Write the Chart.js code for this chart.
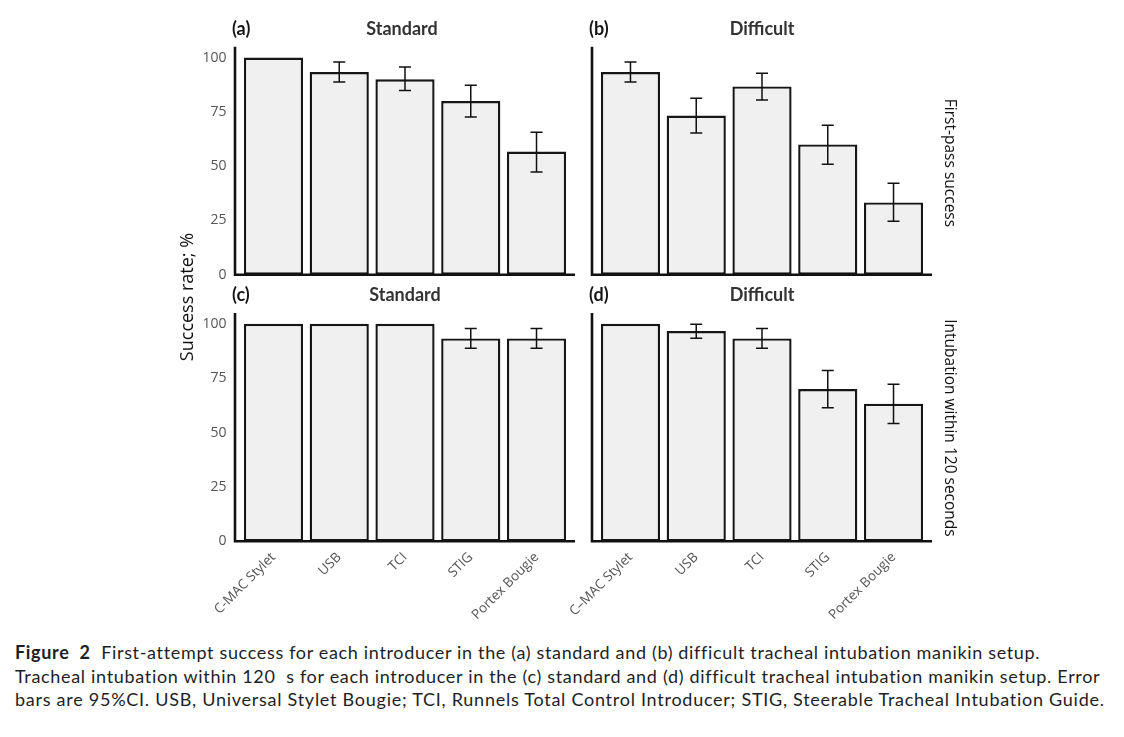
<!DOCTYPE html>
<html>
<head>
<meta charset="utf-8">
<script src="https://cdn.jsdelivr.net/npm/chart.js@4.4.1/dist/chart.umd.min.js"></script>
<style>
body { margin: 0; background: #fff; width: 1124px; height: 737px; position: relative; overflow: hidden; }
canvas { position: absolute; }
.side { position: absolute; font-family: 'Open Sans', sans-serif; color: #111; white-space: nowrap; transform-origin: center center; line-height: 20px; }
#caption { position: absolute; left: 15px; top: 641px; font-family: Lato, 'Noto Sans', sans-serif; font-size: 18px; line-height: 23.5px; color: #1e1e26; white-space: nowrap; }
#caption b { font-weight: 700; }
</style>
</head>
<body>
<canvas id="panel-a" width="400" height="275" style="left:180px;top:10px"></canvas>
<canvas id="panel-b" width="380" height="275" style="left:560px;top:10px"></canvas>
<canvas id="panel-c" width="400" height="345" style="left:180px;top:285px"></canvas>
<canvas id="panel-d" width="380" height="345" style="left:560px;top:285px"></canvas>

<div class="side" style="left:111px;top:287px;width:150px;text-align:center;font-size:18px;transform:rotate(-90deg)">Success rate; %</div>
<div class="side" style="left:871px;top:153px;width:160px;text-align:center;font-size:15.5px;transform:rotate(90deg)">First-pass success</div>
<div class="side" style="left:826px;top:418px;width:250px;text-align:center;font-size:15.5px;transform:rotate(90deg)">Intubation within 120 seconds</div>

<div id="caption">
<span class="ln" data-w="1024"><b>Figure&nbsp; 2</b>&nbsp; First-attempt success for each introducer in the (a) standard and (b) difficult tracheal intubation manikin setup.</span><br>
<span class="ln" data-w="1085">Tracheal intubation within 120&nbsp; s for each introducer in the (c) standard and (d) difficult tracheal intubation manikin setup. Error</span><br>
<span class="ln" data-w="1090">bars are 95%CI. USB, Universal Stylet Bougie; TCI, Runnels Total Control Introducer; STIG, Steerable Tracheal Intubation Guide.</span>
</div>

<script>
// Introducers and y ticks
var introducers = ['C-MAC Stylet', 'USB', 'TCI', 'STIG', 'Portex Bougie'];
var introducersD = ['C–MAC Stylet', 'USB', 'TCI', 'STIG', 'Portex Bougie'];
var yTicks = [0, 25, 50, 75, 100];

// (a) first-pass success, standard
var firstStd = [100, 93.3, 90, 80, 56.7];
var firstStdLo = [null, 88.8, 84.8, 72.6, 47.3];
var firstStdHi = [null, 97.9, 95.6, 87.2, 65.6];

// (b) first-pass success, difficult
var firstDif = [93.3, 73.3, 86.7, 60, 33.3];
var firstDifLo = [88.8, 65.2, 80.4, 50.9, 24.6];
var firstDifHi = [97.9, 81.3, 92.8, 68.8, 42.1];

// (c) intubation within 120 s, standard
var within120Std = [100, 100, 100, 93.3, 93.3];
var within120StdLo = [null, null, null, 88.8, 88.8];
var within120StdHi = [null, null, null, 97.9, 97.9];

// (d) intubation within 120 s, difficult
var within120Dif = [100, 96.7, 93.3, 70, 63.3];
var within120DifLo = [null, 93.4, 88.8, 61.4, 54.2];
var within120DifHi = [null, 99.8, 97.9, 78.5, 72.2];

var AXIS_EXT = 5.6;

// error bars, axis lines, panel letter and title
var panelDecor = {
	id: 'panelDecor',
	afterDatasetsDraw: function(chart) {
		var ctx = chart.ctx;
		var area = chart.chartArea;
		var yScale = chart.scales.y;
		var ds = chart.data.datasets[0];
		var meta = chart.getDatasetMeta(0);
		ctx.save();
		ctx.strokeStyle = '#111';
		ctx.lineWidth = 1.5;
		meta.data.forEach(function(bar, i) {
			if (ds.errLo[i] == null) return;
			var yLo = yScale.getPixelForValue(ds.errLo[i]);
			var yHi = yScale.getPixelForValue(ds.errHi[i]);
			ctx.beginPath();
			ctx.moveTo(bar.x, yLo); ctx.lineTo(bar.x, yHi);
			ctx.moveTo(bar.x - 6, yLo); ctx.lineTo(bar.x + 6, yLo);
			ctx.moveTo(bar.x - 6, yHi); ctx.lineTo(bar.x + 6, yHi);
			ctx.stroke();
		});
		// axes
		var x0 = area.left - AXIS_EXT, x1 = area.right + AXIS_EXT;
		ctx.lineWidth = 2.6;
		ctx.strokeStyle = '#111';
		ctx.beginPath();
		ctx.moveTo(x0, area.top);
		ctx.lineTo(x0, area.bottom);
		ctx.lineTo(x1, area.bottom);
		ctx.stroke();
		// panel letter + title
		var opts = chart.options.plugins.panelDecor;
		ctx.textBaseline = 'middle';
		ctx.font = 'bold 18px Lato, sans-serif';
		ctx.fillStyle = '#161616';
		ctx.textAlign = 'left';
		ctx.fillText(opts.letter, x0 - 3, area.top - 18);
		ctx.fillStyle = '#333';
		ctx.textAlign = 'center';
		ctx.fillText(opts.title, (x0 + x1) / 2 + opts.titleShift, area.top - 18);
		ctx.restore();
	}
};

function makePanel(id, labels, values, lo, hi, cfg) {
	var ctx = document.getElementById(id).getContext('2d');
	return new Chart(ctx, {
		type: 'bar',
		data: {
			labels: labels,
			datasets: [{
				data: values,
				errLo: lo,
				errHi: hi,
				backgroundColor: '#f0f0f0',
				borderColor: '#161616',
				borderWidth: 2.4,
				borderSkipped: false,
				barPercentage: 0.9,
				categoryPercentage: 1.0
			}]
		},
		options: {
			responsive: false,
			animation: false,
			layout: { padding: { top: cfg.padTop, right: cfg.padRight, left: 0, bottom: 0 } },
			plugins: {
				legend: { display: false },
				tooltip: { enabled: false },
				panelDecor: { letter: cfg.letter, title: cfg.title, titleShift: cfg.titleShift || 0 }
			},
			scales: {
				x: {
					type: 'category',
					grid: { display: false },
					border: { display: false },
					ticks: {
						display: cfg.showX,
						maxRotation: 45,
						minRotation: 45,
						padding: 0,
						color: '#555',
						font: { family: 'Open Sans', size: 13.5 }
					},
					afterFit: function(s) {
						s.height = cfg.xHeight;
						s.paddingLeft = 0; s.paddingRight = 0;
					}
				},
				y: {
					min: 0,
					max: 105,
					grid: { display: false },
					border: { display: false },
					afterBuildTicks: function(s) {
						s.ticks = yTicks.map(function(v) { return { value: v }; });
					},
					ticks: {
						display: cfg.showY,
						padding: 6,
						color: '#555',
						font: { family: 'Open Sans', size: 14 }
					},
					afterFit: function(s) {
						s.width = cfg.yWidth;
						s.paddingTop = 0; s.paddingBottom = 0;
					}
				}
			}
		},
		plugins: [panelDecor]
	});
}

window.addEventListener('load', function() {
	makePanel('panel-a', introducers, firstStd, firstStdLo, firstStdHi,
		{ letter: '(a)', title: 'Standard', titleShift: -3, padTop: 36.7, padRight: 10.6, yWidth: 60.6, xHeight: 10.3, showX: false, showY: true });
	makePanel('panel-b', introducers, firstDif, firstDifLo, firstDifHi,
		{ letter: '(b)', title: 'Difficult', padTop: 36.7, padRight: 13.6, yWidth: 37.6, xHeight: 10.3, showX: false, showY: false });
	makePanel('panel-c', introducers, within120Std, within120StdLo, within120StdHi,
		{ letter: '(c)', title: 'Standard', padTop: 28, padRight: 10.6, yWidth: 60.6, xHeight: 88.7, showX: true, showY: true });
	makePanel('panel-d', introducersD, within120Dif, within120DifLo, within120DifHi,
		{ letter: '(d)', title: 'Difficult', padTop: 28, padRight: 13.6, yWidth: 37.6, xHeight: 88.7, showX: true, showY: false });

	// fit caption lines to the widths in the figure
	var lines = document.querySelectorAll('#caption .ln');
	lines.forEach(function(el) {
		var target = +el.getAttribute('data-w');
		var w = el.getBoundingClientRect().width;
		var n = el.textContent.length;
		el.style.letterSpacing = ((target - w) / n).toFixed(3) + 'px';
	});
});
</script>
</body>
</html>
